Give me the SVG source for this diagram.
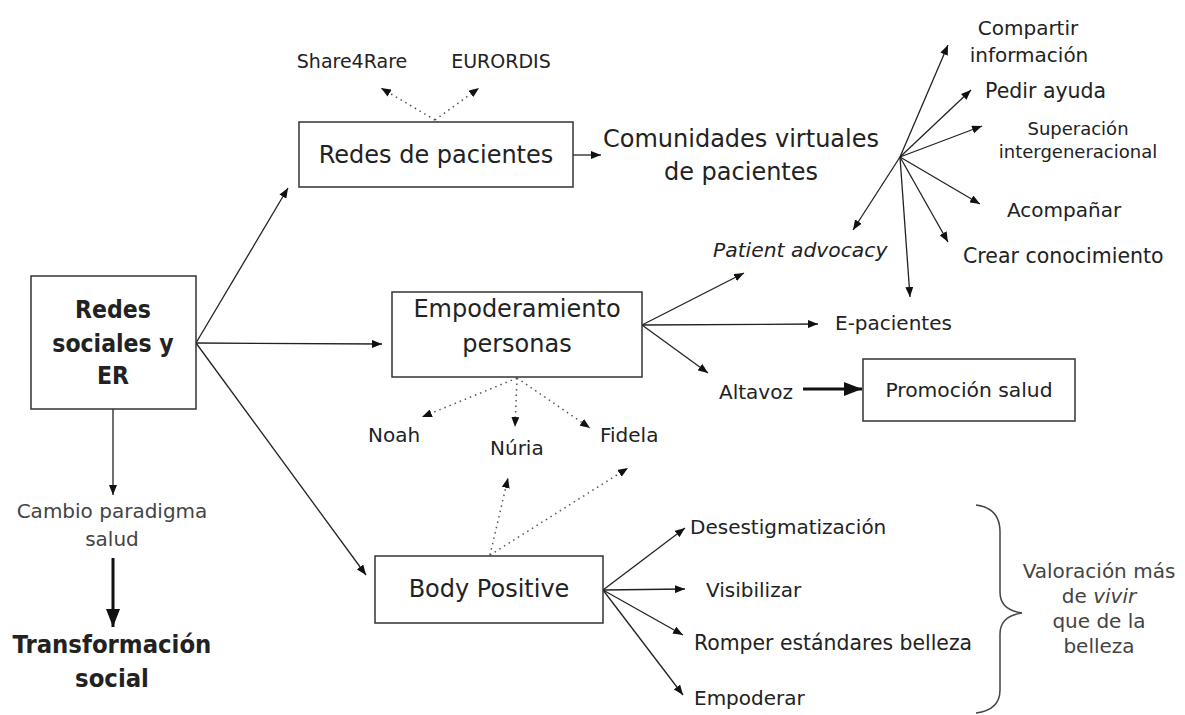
<svg xmlns="http://www.w3.org/2000/svg" width="1185" height="715" viewBox="0 0 1185 715">
<defs>
<style>
text{font-family:"DejaVu Sans",sans-serif;fill:#222;}
.box{fill:#fff;stroke:#333;stroke-width:1.5;}
.ln{stroke:#222;stroke-width:1.3;fill:none;marker-end:url(#ah);}
.dt{stroke:#555;stroke-width:1.5;fill:none;stroke-dasharray:1.5 4;marker-end:url(#ah);}
.th{stroke:#111;stroke-width:3;fill:none;marker-end:url(#ahb);}
.c{text-anchor:middle;}
.b{font-family:"DejaVu Sans Condensed","DejaVu Sans",sans-serif;font-weight:bold;}
.g{fill:#444;}
</style>
<marker id="ah" markerUnits="userSpaceOnUse" markerWidth="10" markerHeight="8" refX="10" refY="4" orient="auto"><path d="M0,0 L10,4 L0,8 z" fill="#111"/></marker>
<marker id="ahb" markerUnits="userSpaceOnUse" markerWidth="18" markerHeight="14" refX="18" refY="7" orient="auto"><path d="M0,0 L18,7 L0,14 z" fill="#111"/></marker>
</defs>
<rect width="1185" height="715" fill="#fff"/>

<g id="connectors">
<line class="ln" x1="196" y1="343" x2="288" y2="188"/>
<line class="ln" x1="196" y1="343" x2="382" y2="344"/>
<line class="ln" x1="196" y1="343" x2="366" y2="575"/>
<line class="ln" x1="113" y1="409" x2="113" y2="495"/>
<line class="th" x1="113" y1="558" x2="113" y2="627"/>
<line class="ln" x1="573" y1="155" x2="601" y2="155"/>
<line class="dt" x1="435" y1="120" x2="381" y2="88"/>
<line class="dt" x1="435" y1="120" x2="479" y2="88"/>
<line class="ln" x1="900" y1="157" x2="948" y2="45"/>
<line class="ln" x1="900" y1="157" x2="971" y2="90"/>
<line class="ln" x1="900" y1="157" x2="982" y2="126"/>
<line class="ln" x1="900" y1="157" x2="980" y2="204"/>
<line class="ln" x1="900" y1="157" x2="948" y2="242"/>
<line class="ln" x1="900" y1="157" x2="853" y2="230"/>
<line class="ln" x1="900" y1="157" x2="910" y2="297"/>
<line class="ln" x1="642" y1="325" x2="744" y2="273"/>
<line class="ln" x1="642" y1="325" x2="818" y2="324"/>
<line class="ln" x1="642" y1="325" x2="708" y2="373"/>
<line class="th" x1="803" y1="389" x2="862" y2="389"/>
<line class="dt" x1="517" y1="378" x2="422" y2="417"/>
<line class="dt" x1="517" y1="378" x2="515" y2="427"/>
<line class="dt" x1="517" y1="378" x2="590" y2="428"/>
<line class="dt" x1="490" y1="555" x2="508" y2="478"/>
<line class="dt" x1="490" y1="555" x2="628" y2="468"/>
<line class="ln" x1="603" y1="590" x2="685" y2="528"/>
<line class="ln" x1="603" y1="590" x2="685" y2="589"/>
<line class="ln" x1="603" y1="590" x2="683" y2="635"/>
<line class="ln" x1="603" y1="590" x2="683" y2="695"/>
</g>

<g id="redes-sociales-er">
<rect class="box" x="31" y="276" width="165" height="133"/>
<text class="c b" x="113" y="318" font-size="24.5">Redes</text>
<text class="c b" x="113" y="352" font-size="24.5">sociales y</text>
<text class="c b" x="113" y="384" font-size="24.5">ER</text>
</g>

<g id="redes-pacientes">
<rect class="box" x="299" y="122" width="274" height="65"/>
<text class="c" x="436" y="163" font-size="24">Redes de pacientes</text>
</g>

<g id="share4rare"><text class="c" x="352" y="68" font-size="19">Share4Rare</text></g>
<g id="eurordis"><text class="c" x="501" y="68" font-size="19">EURORDIS</text></g>

<g id="comunidades">
<text class="c" x="741" y="147" font-size="24">Comunidades virtuales</text>
<text class="c" x="741" y="180" font-size="24">de pacientes</text>
</g>

<g id="compartir">
<text class="c" x="1028" y="35" font-size="20">Compartir</text>
<text class="c" x="1029" y="62" font-size="20">información</text>
</g>
<g id="pedir"><text x="985" y="98" font-size="20.5">Pedir ayuda</text></g>
<g id="superacion">
<text class="c" x="1078" y="135" font-size="18">Superación</text>
<text class="c" x="1078" y="158" font-size="18">intergeneracional</text>
</g>
<g id="acompanar"><text x="1007" y="217" font-size="20">Acompañar</text></g>
<g id="crear"><text x="963" y="263" font-size="20.5">Crear conocimiento</text></g>
<g id="patient-advocacy"><text x="713" y="257" font-size="20.3" font-style="italic">Patient advocacy</text></g>
<g id="e-pacientes"><text x="835" y="330" font-size="20">E-pacientes</text></g>

<g id="empoderamiento">
<rect class="box" x="392" y="292" width="250" height="85"/>
<text class="c" x="517" y="317" font-size="24">Empoderamiento</text>
<text class="c" x="517" y="352" font-size="24">personas</text>
</g>

<g id="altavoz"><text x="719" y="399" font-size="20">Altavoz</text></g>
<g id="promocion">
<rect class="box" x="863" y="359" width="212" height="62"/>
<text class="c" x="969" y="397" font-size="20.3">Promoción salud</text>
</g>

<g id="noah"><text x="368" y="442" font-size="20">Noah</text></g>
<g id="nuria"><text x="490" y="455" font-size="20">Núria</text></g>
<g id="fidela"><text x="600" y="442" font-size="20">Fidela</text></g>

<g id="cambio">
<text class="c g" x="112" y="518" font-size="20">Cambio paradigma</text>
<text class="c g" x="112" y="546" font-size="20">salud</text>
</g>
<g id="transformacion">
<text class="c b" x="112" y="653" font-size="25.4">Transformación</text>
<text class="c b" x="112" y="687" font-size="25.4">social</text>
</g>

<g id="body-positive">
<rect class="box" x="375" y="556" width="228" height="67"/>
<text class="c" x="489" y="597" font-size="24">Body Positive</text>
</g>

<g id="desestigmatizacion"><text x="690" y="534" font-size="20">Desestigmatización</text></g>
<g id="visibilizar"><text x="706" y="597" font-size="20">Visibilizar</text></g>
<g id="romper"><text x="694" y="650" font-size="20.4">Romper estándares belleza</text></g>
<g id="empoderar"><text x="694" y="705" font-size="20">Empoderar</text></g>

<g id="brace">
<path d="M976,505 Q1000,508 1000,532 L1000,592 Q1000,610 1022,613 Q1000,616 1000,634 L1000,690 Q1000,710 976,713" fill="none" stroke="#444" stroke-width="1.5"/>
</g>
<g id="valoracion">
<text class="c g" x="1099" y="578" font-size="20">Valoración más</text>
<text class="c g" x="1099" y="603" font-size="20">de <tspan font-style="italic">vivir</tspan></text>
<text class="c g" x="1099" y="628" font-size="20">que de la</text>
<text class="c g" x="1099" y="653" font-size="20">belleza</text>
</g>
</svg>
